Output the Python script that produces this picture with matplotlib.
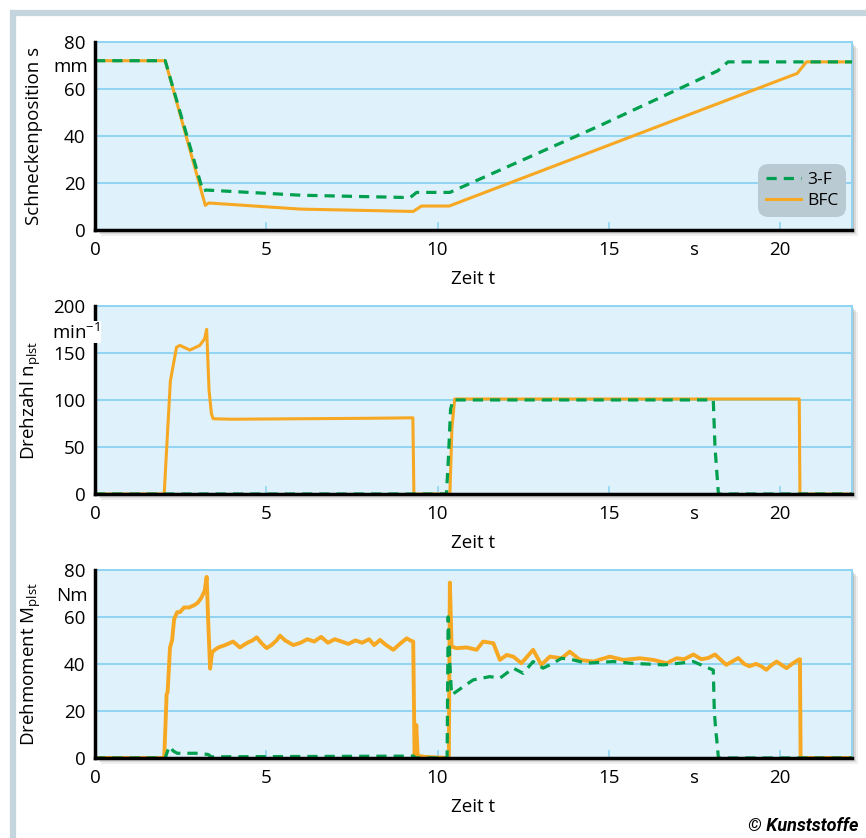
import matplotlib

matplotlib.use("Agg")

import matplotlib.pyplot as plt
from matplotlib.patches import Rectangle

plt.rcParams["font.family"] = ["Open Sans", "DejaVu Sans"]

ORANGE = "#f7a823"
GREEN = "#00a04f"
AX_BG = "#dff1fb"
GRID = "#8fd5f3"
FRAME = "#c5d5de"
LEGEND_BG = "#b9cad3"

T_MAX = 22.1

# --- Schneckenposition s (mm) ---
pos_t_3f = [0, 2.05, 3.15, 3.25, 6.0, 9.2, 9.39, 10.36, 14.74, 18.18, 18.48, T_MAX]
pos_3f = [72, 72, 16.6, 17.0, 14.8, 13.8, 16.0, 16.0, 44.4, 67.7, 71.5, 71.5]
pos_t_bfc = [0, 2.05, 3.22, 3.32, 6.0, 9.29, 9.53, 10.34, 16.39, 20.5, 20.77, T_MAX]
pos_bfc = [72, 72, 10.5, 11.5, 8.9, 7.9, 10.2, 10.2, 43.8, 66.6, 71.5, 71.5]

# --- Drehzahl n_plst (1/min) ---
n_t_3f = [0, 10.26, 10.32, 10.38, 10.45, 18.05, 18.1, 18.2, T_MAX]
n_3f = [0, 0, 40, 90, 100, 100, 50, 0, 0]
n_t_bfc = [0, 2.02, 2.09, 2.2, 2.38, 2.48, 2.77, 3.06, 3.2, 3.26, 3.33, 3.4, 3.45,
           4.0, 6.0, 8.0, 9.28, 9.31, 10.36, 10.42, 10.5, 15.0, 20.56, 20.58, T_MAX]
n_bfc = [0, 0, 47, 120, 156, 158, 153, 158, 165, 175, 110, 85, 80,
         79.5, 80, 80.5, 81, 0, 0, 70, 101, 101, 101, 0, 0]

# --- Drehmoment M_plst (Nm) ---
m_t_3f = [0, 2.05, 2.12, 2.19, 2.28, 2.4, 3.0, 3.3, 3.4, 9.3, 9.35, 10.28, 10.31,
          10.36, 10.41, 10.75, 11.04, 11.53, 11.82, 12.21, 12.5, 12.79, 13.08,
          13.38, 13.62, 13.96, 14.35, 15.13, 15.62, 16.59, 17.07, 17.47, 17.8,
          18.05, 18.08, 18.12, 18.15, 18.2, T_MAX]
m_3f = [0, 0, 3, 5, 3, 2, 2, 1.5, 0.5, 0.8, 0, 0, 60,
        40, 26.8, 30.3, 33.2, 34.6, 33.9, 38.2, 36, 41, 38.2,
        40.3, 42.4, 41.7, 40.3, 41, 40.3, 39.6, 40.3, 41, 38.9,
        37.4, 20, 12, 8, 0, 0]
m_t_bfc = [0, 2.02, 2.06, 2.09, 2.12, 2.19, 2.25, 2.31, 2.4, 2.48, 2.6, 2.75,
           2.9, 3.0, 3.1, 3.2, 3.26, 3.3, 3.36, 3.42, 3.5, 3.6, 3.8, 4.03,
           4.23, 4.45, 4.6, 4.72, 4.85, 5.01, 5.15, 5.3, 5.4, 5.55, 5.79, 6.0,
           6.2, 6.4, 6.6, 6.8, 7.0, 7.2, 7.4, 7.6, 7.8, 8.0, 8.15, 8.32, 8.5,
           8.71, 8.9, 9.1, 9.2, 9.29, 9.33, 9.38, 9.42, 9.6, 10.33, 10.36,
           10.41, 10.55, 10.85, 11.14, 11.33, 11.63, 11.82, 12.02, 12.21, 12.45,
           12.79, 13.03, 13.28, 13.62, 13.86, 14.16, 14.55, 15.03, 15.42, 15.91,
           16.3, 16.69, 16.98, 17.2, 17.47, 17.7, 17.9, 18.1, 18.25, 18.43, 18.6,
           18.78, 18.95, 19.1, 19.3, 19.45, 19.6, 19.75, 19.9, 20.05, 20.19,
           20.35, 20.53, 20.58, 20.6, T_MAX]
m_bfc = [0, 0, 15, 27, 28, 47, 50, 59, 62, 62, 64, 64,
         65, 66, 68, 71, 77, 60, 38, 45, 46, 47, 48, 49.5,
         47, 49, 50, 51.3, 49, 46.7, 48, 50, 52, 50, 48, 49,
         50.5, 49.5, 51.5, 49, 50.5, 49.5, 48.5, 50, 49, 50.5, 48, 50.2, 48,
         46, 48.5, 50.9, 50, 49.5, 0, 14, 1, 0.5, 0, 74.6,
         47.4, 46.7, 47, 46, 49.5, 48.8, 41.7, 43.8, 43.1, 40.3,
         46, 39.6, 43.1, 42.4, 45.2, 41.7, 41, 43.1, 41.7, 42.4,
         41.7, 40.3, 42.4, 42, 44, 42, 42.5, 44, 42, 39.6, 41,
         42.5, 40, 39, 40, 39, 37.5, 39.5, 41, 39.5, 38.2,
         40, 41.7, 42, 0, 0]

panels = [
    dict(bottom=0.7255, t3f=pos_t_3f, y3f=pos_3f, tbfc=pos_t_bfc, ybfc=pos_bfc,
         ylabel="Schneckenposition s", unit="mm", unit_at=69.5, ymax=80,
         yticks=[0, 20, 40, 60, 80], lw=2.2),
    dict(bottom=0.4105, t3f=n_t_3f, y3f=n_3f, tbfc=n_t_bfc, ybfc=n_bfc,
         ylabel="Drehzahl n$_{\\mathregular{plst}}$", unit="min$^{\\mathregular{-1}}$",
         unit_at=172, ymax=200, yticks=[0, 50, 100, 150, 200], lw=2.2),
    dict(bottom=0.0955, t3f=m_t_3f, y3f=m_3f, tbfc=m_t_bfc, ybfc=m_bfc,
         ylabel="Drehmoment M$_{\\mathregular{plst}}$", unit="Nm", unit_at=69,
         ymax=80, yticks=[0, 20, 40, 60, 80], lw=2.8),
]

W, H = 866, 838
fig = plt.figure(figsize=(W / 100, H / 100), dpi=100)
fig.patch.set_facecolor("white")

# outer frame (only top and left bars fall inside the picture)
fig.add_artist(Rectangle((13 / W, -0.1), 1.2, 1.1 - 13 / H,
                         transform=fig.transFigure, fill=False,
                         edgecolor=FRAME, linewidth=4.5, zorder=-1))

left, width, height = 95 / W, 757 / W, 0.2245
for i, p in enumerate(panels):
    # drop shadow behind the axes
    for k, a in ((6, 0.12), (4, 0.2), (2, 0.3)):
        fig.add_artist(Rectangle((left + k / W, p["bottom"] - k / H), width, height,
                                 transform=fig.transFigure, facecolor="#808080",
                                 edgecolor="none", alpha=a, zorder=0))
    ax = fig.add_axes([left, p["bottom"], width, height])
    ax.set_facecolor(AX_BG)
    ax.set_xlim(0, T_MAX)
    ax.set_ylim(0, p["ymax"])
    ax.set_yticks(p["yticks"])
    ax.yaxis.grid(True, color=GRID, linewidth=1.4)
    ax.set_axisbelow(True)
    for side in ("top", "right"):
        ax.spines[side].set_color(GRID)
        ax.spines[side].set_linewidth(1.4)
    for side in ("left", "bottom"):
        ax.spines[side].set_color("black")
        ax.spines[side].set_linewidth(2.5)
        ax.spines[side].set_zorder(4)

    ax.plot(p["tbfc"], p["ybfc"], color=ORANGE, linewidth=p["lw"], label="BFC",
            solid_joinstyle="round", zorder=3)
    ax.plot(p["t3f"], p["y3f"], color=GREEN, linewidth=2.3, linestyle=(0, (3.2, 2.2)),
            label="3-F", zorder=3.5)

    ax.set_xticks([0, 5, 10, 15, 17.5, 20])
    ax.set_xticklabels(["0", "5", "10", "15", "s", "20"])
    ax.xaxis.get_major_ticks()[4].tick1line.set_visible(False)
    ax.tick_params(axis="x", direction="in", length=6, width=1.2, color=GRID,
                   labelsize=13.5, pad=8)
    ax.tick_params(axis="y", length=0, labelsize=13.5, pad=7)
    ax.set_xlabel("Zeit t", fontsize=13.5, labelpad=8)
    ax.set_ylabel(p["ylabel"], fontsize=13.5)
    ax.yaxis.set_label_coords(-0.069, 0.5)

    unit_x = 0.0065 if i == 1 else -0.0093
    ax.text(unit_x, p["unit_at"], p["unit"], transform=ax.get_yaxis_transform(),
            ha="right", va="center", fontsize=13.5, zorder=6, clip_on=False,
            bbox=dict(facecolor="white", edgecolor="none", pad=0.5) if i == 1 else None)

    if i == 0:
        handles, labels = ax.get_legend_handles_labels()
        leg = ax.legend(handles[::-1], labels[::-1], loc="lower right",
                        bbox_to_anchor=(1 - 6 / 757, 13 / 189),
                        fontsize=12.5, frameon=True, fancybox=True,
                        facecolor=LEGEND_BG, edgecolor="none", framealpha=1,
                        handlelength=2.0, handletextpad=0.35, borderaxespad=0,
                        labelspacing=0.3, borderpad=0.45)
        leg.get_frame().set_boxstyle("round", pad=0, rounding_size=0.6)

fig.text(858 / W, 1 - 826 / H, "\u00a9 Kunststoffe", ha="right", va="center",
         fontsize=13, fontweight="bold", fontstyle="italic", family="Roboto")

fig.savefig("out.png", dpi=100)
